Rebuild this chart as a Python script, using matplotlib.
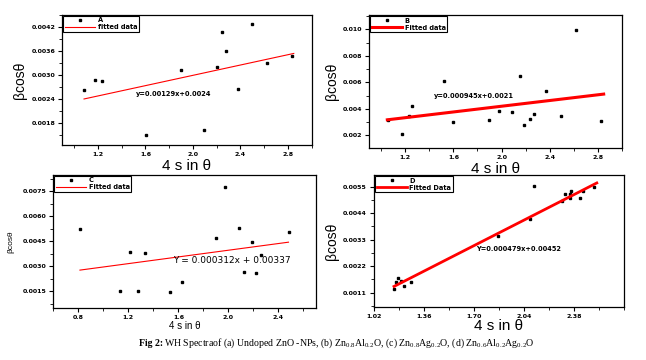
import matplotlib
matplotlib.use("Agg")
import matplotlib.pyplot as plt
import matplotlib.ticker as mticker

plt.rcParams["mathtext.fontset"] = "custom"
plt.rcParams["mathtext.rm"] = "Liberation Serif"
plt.rcParams["mathtext.it"] = "Liberation Serif:italic"

# ── data ──────────────────────────────────────────────────────────────────────
a_x = [1.083, 1.174, 1.237, 1.606, 1.897, 2.089, 2.200, 2.243, 2.277, 2.380, 2.500, 2.623, 2.834]
a_y = [0.00263, 0.00287, 0.00286, 0.00151, 0.00313, 0.00163, 0.00320, 0.004075, 0.00360,
       0.00264, 0.004275, 0.00331, 0.00348]
a_fit_x = [1.083, 2.849]
a_fit_y = [0.00240, 0.00354]

b_x = [1.057, 1.175, 1.234, 1.253, 1.520, 1.600, 1.894, 1.978, 2.088, 2.155, 2.190, 2.240,
       2.267, 2.371, 2.495, 2.616, 2.830]
b_y = [0.00317, 0.00211, 0.00342, 0.00418, 0.00611, 0.00304, 0.00314, 0.00382, 0.00375,
       0.00647, 0.00277, 0.00320, 0.00360, 0.00531, 0.00347, 0.00994, 0.00309]
b_fit_x = [1.05, 2.85]
b_fit_y = [0.00317, 0.00511]

c_x = [0.813, 1.134, 1.215, 1.279, 1.335, 1.531, 1.628, 1.903, 1.972, 2.081, 2.127, 2.186,
       2.224, 2.260, 2.482]
c_y = [0.00522, 0.00148, 0.00382, 0.00148, 0.00380, 0.00142, 0.00202, 0.00470, 0.00776,
       0.00532, 0.00262, 0.00448, 0.00260, 0.00366, 0.00508]
c_fit_x = [0.813, 2.48]
c_fit_y = [0.00276, 0.00444]

d_x = [1.156, 1.170, 1.181, 1.204, 1.226, 1.272, 1.861, 2.079, 2.106, 2.297, 2.317, 2.353,
       2.358, 2.353, 2.421, 2.444, 2.517]
d_y = [0.00125, 0.00156, 0.00172, 0.00160, 0.00138, 0.00153, 0.00345, 0.00417, 0.00554,
       0.00490, 0.00519, 0.00502, 0.00533, 0.00521, 0.00504, 0.00531, 0.00547]
d_fit_x = [1.156, 2.535]
d_fit_y = [0.00136, 0.00565]

# tick values / labels
a_yticks = [0.0018, 0.0024, 0.0030, 0.0036, 0.0042]
b_yticks = [0.002, 0.004, 0.006, 0.008, 0.010]
c_yticks = [0.0015, 0.0030, 0.0045, 0.0060, 0.0075]
d_yticks = [0.0011, 0.0022, 0.0033, 0.0044, 0.0055]
ab_xticks = [1.2, 1.6, 2.0, 2.4, 2.8]
c_xticks = [0.8, 1.2, 1.6, 2.0, 2.4]
d_xticks = [1.02, 1.36, 1.70, 2.04, 2.38]

W, H = 646, 360
fig = plt.figure(figsize=(W / 100, H / 100), dpi=100)


def px_axes(l, t, r, b):
    return fig.add_axes([l / W, 1 - b / H, (r - l) / W, (b - t) / H])


def style(ax, xticks, xfmt, yticks, yfmt, xminor, yminor):
    ax.xaxis.set_major_locator(mticker.FixedLocator(xticks))
    ax.xaxis.set_major_formatter(mticker.FormatStrFormatter(xfmt))
    ax.yaxis.set_major_locator(mticker.FixedLocator(yticks))
    ax.yaxis.set_major_formatter(mticker.FormatStrFormatter(yfmt))
    ax.xaxis.set_minor_locator(mticker.MultipleLocator(xminor))
    ax.yaxis.set_minor_locator(mticker.MultipleLocator(yminor))
    ax.tick_params(which="major", direction="out", length=3, width=0.8,
                   labelsize=4.5, pad=2, top=False, right=False)
    ax.tick_params(which="minor", direction="out", length=2, width=0.6,
                   top=False, right=False)
    for lab in ax.get_xticklabels() + ax.get_yticklabels():
        lab.set_fontweight("bold")
    for s in ax.spines.values():
        s.set_linewidth(0.9)


def legend(ax, name, fitlabel):
    leg = ax.legend([name, fitlabel], loc="upper left", fontsize=4.8, frameon=True,
                    fancybox=False, framealpha=1, edgecolor="black", numpoints=1,
                    borderpad=0.25, labelspacing=0.15, handlelength=4.5,
                    handletextpad=0.4, borderaxespad=0.15)
    leg.get_frame().set_linewidth(0.8)
    for t in leg.get_texts():
        t.set_fontweight("bold")


MS = 2.0

# ── (a) ───────────────────────────────────────────────────────────────────────
ax = px_axes(62.3, 14.7, 311.7, 145.3)
ax.plot(a_x, a_y, "s", color="black", ms=MS, ls="none")
ax.plot(a_fit_x, a_fit_y, color="red", lw=0.8)
ax.set_xlim(0.9, 3.0)
ax.set_ylim(0.00124, 0.00451)
style(ax, ab_xticks, "%.1f", a_yticks, "%.4f", 0.2, 0.0003)
legend(ax, "A", "fitted data")
ax.text(1.52, 0.00248, "y=0.00129x+0.0024", fontsize=4.8, fontweight="bold")
ax.set_xlabel("4 s in θ", fontsize=11, labelpad=1, family="Liberation Sans")
ax.set_ylabel("βcosθ", fontsize=10, labelpad=3, family="Liberation Sans")

# ── (b) ───────────────────────────────────────────────────────────────────────
ax = px_axes(369.3, 15.0, 621.7, 148.3)
ax.plot(b_x, b_y, "s", color="black", ms=MS, ls="none")
ax.plot(b_fit_x, b_fit_y, color="red", lw=2.2)
ax.set_xlim(0.9, 3.0)
ax.set_ylim(0.00102, 0.01108)
style(ax, ab_xticks, "%.1f", b_yticks, "%.3f", 0.2, 0.001)
legend(ax, "B", "Fitted data")
ax.text(1.44, 0.0048, "y=0.000945x+0.0021", fontsize=4.8, fontweight="bold")
ax.set_xlabel("4 s in θ", fontsize=11, labelpad=1, family="Liberation Sans")
ax.set_ylabel("βcosθ", fontsize=10, labelpad=3, family="Liberation Sans")

# ── (c) ───────────────────────────────────────────────────────────────────────
ax = px_axes(53.3, 174.7, 316.0, 308.0)
ax.plot(c_x, c_y, "s", color="black", ms=MS, ls="none")
ax.plot(c_fit_x, c_fit_y, color="red", lw=0.8)
ax.set_xlim(0.6, 2.7)
ax.set_ylim(0.00048, 0.0085)
style(ax, c_xticks, "%.1f", c_yticks, "%.4f", 0.2, 0.00075)
legend(ax, "C", "Fitted data")
ax.text(1.56, 0.0032, "Y = 0.000312x + 0.00337", fontsize=6.5)
ax.set_xlabel("4 s in θ", fontsize=7, labelpad=1, family="Liberation Sans")
ax.set_ylabel("βcosθ", fontsize=6, labelpad=6, family="Liberation Sans")

# ── (d) ───────────────────────────────────────────────────────────────────────
ax = px_axes(374.0, 175.0, 624.0, 306.7)
ax.plot(d_x, d_y, "s", color="black", ms=MS, ls="none")
ax.plot(d_fit_x, d_fit_y, color="red", lw=2.0)
ax.set_xlim(1.02, 2.72)
ax.set_ylim(0.00052, 0.00598)
style(ax, d_xticks, "%.2f", d_yticks, "%.4f", 0.17, 0.00055)
legend(ax, "D", "Fitted Data")
ax.text(1.714, 0.00283, "Y=0.000479x+0.00452", fontsize=4.8, fontweight="bold")
ax.set_xlabel("4 s in θ", fontsize=11, labelpad=0, family="Liberation Sans")
ax.set_ylabel("βcosθ", fontsize=10, labelpad=3, family="Liberation Sans")

# ── caption ───────────────────────────────────────────────────────────────────
fig.text(139 / W, 1 - 343 / H, "Fig 2:", fontsize=7.1, fontweight="bold",
         family="Liberation Serif", va="center")
fig.text(164 / W, 1 - 343 / H,
         r"WH Spectraof (a) Undoped ZnO -NPs, (b) Zn$_{0.8}$Al$_{0.2}$O, "
         r"(c) Zn$_{0.8}$Ag$_{0.2}$O, (d) Zn$_{0.6}$Al$_{0.2}$Ag$_{0.2}$O",
         fontsize=7.1, family="Liberation Serif", va="center")

fig.savefig("out.png", dpi=100)
